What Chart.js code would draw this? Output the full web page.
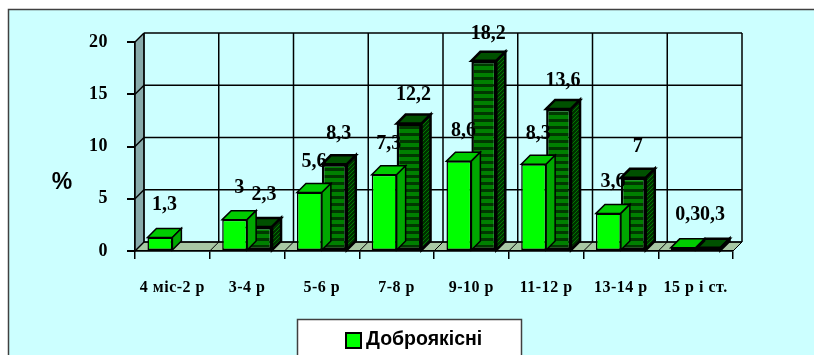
<!DOCTYPE html>
<html>
<head>
<meta charset="utf-8">
<script src="https://cdn.jsdelivr.net/npm/chart.js@4"></script>
<style>
  html, body { margin: 0; padding: 0; background: #ffffff; }
  canvas { display: block; }
</style>
</head>
<body>
<canvas id="c" width="814" height="355"></canvas>
<script>
// Age groups along the horizontal axis
const categories = ['4 міс-2 р', '3-4 р', '5-6 р', '7-8 р', '9-10 р', '11-12 р', '13-14 р', '15 р і ст.'];

// Series (percent)
const benignLabel = 'Доброякісні';
const benignValues = [1.3, 3, 5.6, 7.3, 8.6, 8.3, 3.6, 0.3];
const malignantLabel = 'Злоякісні';
const malignantValues = [null, 2.3, 8.3, 12.2, 18.2, 13.6, 7, 0.3];

// Value axis ticks
const yTicks = [0, 5, 10, 15, 20];

const DEPTH = 9;               // depth of the pseudo-3D extrusion
const SERIF = 'Liberation Serif, "Times New Roman", serif';
const SANS = 'Liberation Sans, Arial, sans-serif';

const canvas = document.getElementById('c');
const mainCtx = canvas.getContext('2d');

function makePattern(w, h, paint) {
  const off = document.createElement('canvas');
  off.width = w; off.height = h;
  paint(off.getContext('2d'));
  return mainCtx.createPattern(off, 'repeat');
}

// horizontal stripes for the front of the dark bars
const stripeFront = makePattern(4, 7, g => {
  g.fillStyle = '#008000'; g.fillRect(0, 0, 4, 7);
  g.fillStyle = '#003800'; g.fillRect(0, 0, 4, 3);
});
// diagonal hatch for the side of the dark bars
const hatchSide = makePattern(4, 4, g => {
  g.fillStyle = '#003000'; g.fillRect(0, 0, 4, 4);
  g.fillStyle = '#007a00';
  for (let i = 0; i < 4; i++) g.fillRect(i, 3 - i, 1, 1);
});

function poly(ctx, pts, fill, stroke, lw) {
  ctx.beginPath();
  ctx.moveTo(pts[0][0], pts[0][1]);
  for (let i = 1; i < pts.length; i++) ctx.lineTo(pts[i][0], pts[i][1]);
  ctx.closePath();
  if (fill) { ctx.fillStyle = fill; ctx.fill(); }
  if (stroke) { ctx.strokeStyle = stroke; ctx.lineWidth = lw || 1; ctx.stroke(); }
}

function line(ctx, x1, y1, x2, y2) {
  ctx.beginPath(); ctx.moveTo(x1, y1); ctx.lineTo(x2, y2); ctx.stroke();
}

const fmt = v => String(v).replace('.', ',');

const box3d = {
  id: 'box3d',
  beforeDraw(chart) {
    const { ctx, chartArea: a, scales: { y } } = chart;
    const D = DEPTH;
    const n = categories.length;
    const cw = (a.right - a.left) / n;
    ctx.save();
    // frame
    ctx.fillStyle = '#ccffff';
    ctx.fillRect(8, 9, 830, 380);
    ctx.strokeStyle = '#404040'; ctx.lineWidth = 1.5;
    ctx.strokeRect(8.5, 9.5, 830, 380);

    // left wall
    poly(ctx, [[a.left, a.top], [a.left + D, a.top - D], [a.left + D, a.bottom - D], [a.left, a.bottom]],
      '#88aaaa', '#000', 1);
    // floor
    poly(ctx, [[a.left, a.bottom], [a.right, a.bottom], [a.right + D, a.bottom - D], [a.left + D, a.bottom - D]],
      '#a8c8a4', '#000', 1);

    ctx.strokeStyle = '#000';
    ctx.lineWidth = 1.5;
    // horizontal grid on back wall + diagonals on the left wall
    yTicks.forEach(v => {
      const py = y.getPixelForValue(v);
      line(ctx, a.left + D, py - D, a.right + D, py - D);
      line(ctx, a.left, py, a.left + D, py - D);
    });
    // vertical grid on back wall + diagonals on the floor
    for (let i = 0; i <= n; i++) {
      const px = a.left + i * cw;
      line(ctx, px + D, a.top - D, px + D, a.bottom - D);
      ctx.lineWidth = 1;
      line(ctx, px, a.bottom, px + D, a.bottom - D);
      ctx.lineWidth = 1.5;
    }
    ctx.restore();
    // slightly spaced category captions
    ctx.letterSpacing = '0.5px';
  },
  beforeDatasetsDraw(chart) {
    chart.ctx.letterSpacing = '0px';
  },
  afterDatasetDraw(chart, args) {
    const { ctx } = chart;
    const D = DEPTH;
    const ds = chart.data.datasets[args.index];
    ctx.save();
    args.meta.data.forEach((bar, i) => {
      const v = ds.data[i];
      if (v == null) return;
      const p = bar.getProps(['x', 'y', 'base', 'width'], true);
      const l = p.x - p.width / 2, r = p.x + p.width / 2;
      poly(ctx, [[l, p.y], [l + D, p.y - D], [r + D, p.y - D], [r, p.y]], ds.topColor, '#000', ds.borderWidth);
      poly(ctx, [[r, p.y], [r + D, p.y - D], [r + D, p.base - D], [r, p.base]], ds.sideColor, '#000', ds.borderWidth);
    });
    // value labels (taller bars carry their label a little closer)
    ctx.font = 'bold 20px ' + SERIF;
    ctx.fillStyle = '#000';
    ctx.textAlign = 'center';
    ctx.textBaseline = 'middle';
    args.meta.data.forEach((bar, i) => {
      const v = ds.data[i];
      if (v == null) return;
      const p = bar.getProps(['x', 'y'], true);
      ctx.fillText(fmt(v), p.x + D / 2, p.y - (33 - 0.35 * v));
    });
    ctx.restore();
  },
  afterDraw(chart) {
    const { ctx } = chart;
    ctx.save();
    // axis title
    ctx.font = 'bold 23px ' + SANS;
    ctx.fillStyle = '#000';
    ctx.textAlign = 'center';
    ctx.textBaseline = 'middle';
    ctx.fillText('%', 62, 183);

    // legend box
    ctx.fillStyle = '#ffffff';
    ctx.fillRect(297, 319, 224, 70);
    ctx.strokeStyle = '#404040'; ctx.lineWidth = 1.5;
    ctx.strokeRect(297.5, 319.5, 224, 70);
    ctx.font = 'bold 19.5px ' + SANS;
    ctx.textAlign = 'left';
    chart.data.datasets.forEach((ds, i) => {
      const yy = 340 + i * 26;
      ctx.fillStyle = ds.legendSwatch;
      ctx.fillRect(346, yy - 7, 15, 15);
      ctx.strokeStyle = '#000'; ctx.lineWidth = 2;
      ctx.strokeRect(346, yy - 7, 15, 15);
      ctx.fillStyle = '#000';
      ctx.fillText(ds.label, 366, yy);
    });
    ctx.restore();
  }
};

new Chart(canvas, {
  type: 'bar',
  data: {
    labels: categories,
    datasets: [
      {
        label: benignLabel,
        data: benignValues,
        backgroundColor: '#00ff00',
        borderColor: '#000',
        borderWidth: 1.5,
        borderSkipped: false,
        topColor: '#00cc00',
        sideColor: '#00a800',
        legendSwatch: '#00ff00'
      },
      {
        label: malignantLabel,
        data: malignantValues,
        backgroundColor: stripeFront,
        borderColor: '#000',
        borderWidth: 2.5,
        borderSkipped: false,
        topColor: '#005000',
        sideColor: hatchSide,
        legendSwatch: stripeFront
      }
    ]
  },
  options: {
    responsive: false,
    animation: false,
    devicePixelRatio: 1,
    categoryPercentage: 2 / 3,
    barPercentage: 1,
    layout: { padding: { top: 42, right: 81, left: 0, bottom: 0 } },
    plugins: { legend: { display: false }, tooltip: { enabled: false } },
    scales: {
      x: {
        grid: { offset: true, drawOnChartArea: false, drawTicks: true, tickLength: 8, color: '#000', lineWidth: 1.5 },
        border: { display: true, color: '#000', width: 1.5 },
        ticks: {
          font: { family: SERIF, weight: 'bold', size: 16 },
          color: '#000', padding: 19, maxRotation: 0, autoSkip: false
        },
        afterFit(s) { s.height = 104; }
      },
      y: {
        min: yTicks[0],
        max: yTicks[yTicks.length - 1],
        afterBuildTicks(s) { s.ticks = yTicks.map(v => ({ value: v })); },
        grid: { drawOnChartArea: false, drawTicks: true, tickLength: 8, color: '#000', lineWidth: 2 },
        border: { display: true, color: '#000', width: 1.5 },
        ticks: { font: { family: SERIF, weight: 'bold', size: 18 }, color: '#000', padding: 19 },
        afterFit(s) { s.width = 135; }
      }
    }
  },
  plugins: [box3d]
});
</script>
</body>
</html>
